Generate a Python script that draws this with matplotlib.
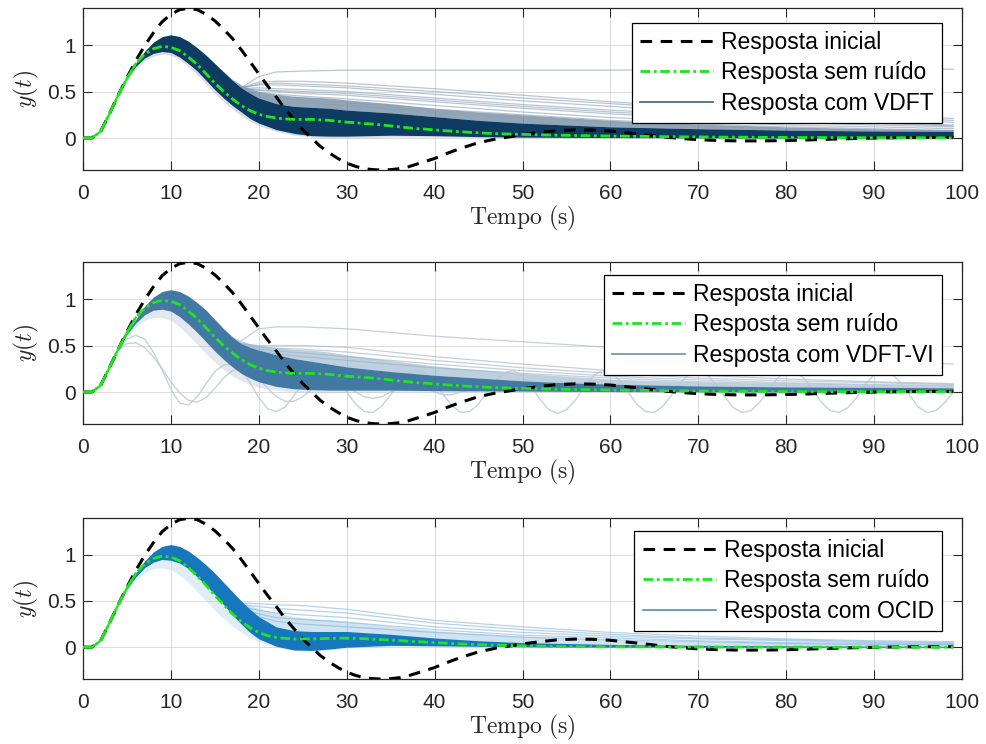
import numpy as np
import matplotlib
matplotlib.use('Agg')
import matplotlib.pyplot as plt
from matplotlib.lines import Line2D

plt.rcParams['font.family'] = ['Liberation Sans', 'DejaVu Sans']
plt.rcParams['mathtext.fontset'] = 'cm'

# ---------------- data ----------------
t_main = list(range(0, 48)) + list(range(48, 99, 2)) + [99]

y_inicial = [0, 0, 0.07, 0.26, 0.46, 0.65, 0.83, 0.99, 1.13, 1.25, 1.33, 1.38, 1.395, 1.38, 1.33, 1.26,
             1.17, 1.07, 0.95, 0.82, 0.69, 0.56, 0.44, 0.31, 0.2, 0.09, 0.0, -0.09, -0.16, -0.22, -0.27,
             -0.305, -0.33, -0.34, -0.345, -0.34, -0.33, -0.31, -0.28, -0.25, -0.22, -0.18, -0.145, -0.11,
             -0.08, -0.05, -0.03, -0.01,
             0.005, 0.035, 0.06, 0.08, 0.088, 0.085, 0.075, 0.055, 0.035, 0.012, -0.005, -0.018, -0.026,
             -0.03, -0.031, -0.03, -0.027, -0.022, -0.016, -0.01, -0.005, -0.001, 0.002, 0.004, 0.005,
             0.005, 0.005]

y_semruido_vdft = [0, 0, 0.07, 0.26, 0.46, 0.64, 0.8, 0.9, 0.96, 0.985, 0.975, 0.94, 0.87, 0.79, 0.69, 0.59,
                   0.5, 0.42, 0.35, 0.295, 0.255, 0.23, 0.215, 0.205, 0.2, 0.2, 0.2, 0.195, 0.19, 0.18, 0.17,
                   0.165, 0.155, 0.15, 0.14, 0.13, 0.12, 0.11, 0.1, 0.095, 0.087, 0.08, 0.073, 0.067, 0.061,
                   0.056, 0.051, 0.047,
                   0.044, 0.039, 0.034, 0.03, 0.027, 0.024, 0.021, 0.019, 0.017, 0.015, 0.013, 0.012, 0.01,
                   0.009, 0.008, 0.007, 0.006, 0.005, 0.005, 0.004, 0.004, 0.003, 0.003, 0.003, 0.002,
                   0.002, 0.002]
y_semruido_vdftvi = y_semruido_vdft
y_semruido_ocid = [0, 0, 0.07, 0.26, 0.46, 0.64, 0.8, 0.9, 0.96, 0.985, 0.975, 0.935, 0.86, 0.77, 0.67, 0.56,
                   0.46, 0.36, 0.28, 0.21, 0.16, 0.125, 0.105, 0.095, 0.09, 0.09, 0.09, 0.092, 0.095, 0.097,
                   0.097, 0.095, 0.092, 0.087, 0.082, 0.077, 0.071, 0.065, 0.06, 0.055, 0.05, 0.045, 0.04,
                   0.036, 0.032, 0.028, 0.025, 0.022,
                   0.019, 0.014, 0.011, 0.008, 0.006, 0.005, 0.004, 0.003, 0.003, 0.002, 0.002, 0.002, 0.001,
                   0.001, 0.001, 0.001, 0.001, 0.001, 0, 0, 0, 0, 0, 0, 0, 0, 0]

# envelopes of the dense bundles of noisy responses
t_band = [0, 1, 2, 3, 4, 5, 6, 7, 8, 9, 10, 11, 12, 13, 14, 15, 16, 17, 18, 19, 20, 22, 24, 26, 28, 30,
          35, 40, 45, 50, 55, 60, 70, 80, 90, 99]
vdft_upper = [0, 0, 0.07, 0.26, 0.46, 0.64, 0.8, 0.93, 1.03, 1.09, 1.11, 1.09, 1.04, 0.97, 0.89, 0.8, 0.71,
              0.62, 0.54, 0.48, 0.43, 0.37, 0.34, 0.33, 0.32, 0.3, 0.27, 0.23, 0.19, 0.16, 0.14, 0.12, 0.1,
              0.085, 0.075, 0.07]
vdft_lower = [0, 0, 0.07, 0.26, 0.46, 0.64, 0.77, 0.86, 0.91, 0.93, 0.92, 0.87, 0.8, 0.72, 0.62, 0.52, 0.43,
              0.35, 0.28, 0.21, 0.16, 0.09, 0.05, 0.025, 0.02, 0.02, 0.03, 0.025, 0.015, 0.01, 0.007, 0.005,
              0.002, 0, 0, 0]
vdft_lower_light = [0, 0, 0.07, 0.26, 0.46, 0.62, 0.74, 0.83, 0.88, 0.9, 0.89, 0.84, 0.77, 0.68, 0.58, 0.48,
                    0.39, 0.31, 0.24, 0.18, 0.13, 0.07, 0.03, 0.01, 0.0, 0.0, 0.01, 0.01, 0.005, 0, 0, 0, 0,
                    0, 0, 0]
vdft_fan = [0, 0, 0.07, 0.26, 0.46, 0.64, 0.8, 0.93, 1.03, 1.09, 1.11, 1.09, 1.04, 0.97, 0.89, 0.8, 0.71,
            0.63, 0.57, 0.53, 0.5, 0.47, 0.45, 0.44, 0.43, 0.41, 0.37, 0.32, 0.28, 0.25, 0.22, 0.19, 0.15,
            0.12, 0.1, 0.09]

vi_upper = [0, 0, 0.07, 0.26, 0.46, 0.64, 0.78, 0.92, 1.02, 1.08, 1.1, 1.08, 1.03, 0.96, 0.88, 0.78, 0.68,
            0.59, 0.52, 0.48, 0.45, 0.4, 0.36, 0.33, 0.3, 0.27, 0.22, 0.18, 0.15, 0.12, 0.1, 0.085, 0.065,
            0.055, 0.05, 0.045]
vi_lower = [0, 0, 0.07, 0.26, 0.46, 0.62, 0.74, 0.83, 0.88, 0.89, 0.87, 0.81, 0.73, 0.64, 0.54, 0.44, 0.35,
            0.27, 0.2, 0.15, 0.11, 0.06, 0.035, 0.025, 0.02, 0.02, 0.02, 0.015, 0.012, 0.01, 0.007, 0.005,
            0.002, 0, 0, 0]
vi_lower_light = [0, 0, 0.07, 0.26, 0.46, 0.6, 0.7, 0.77, 0.8, 0.8, 0.77, 0.7, 0.61, 0.51, 0.41, 0.32, 0.24,
                  0.17, 0.12, 0.08, 0.05, 0.02, 0.0, -0.01, -0.01, -0.005, 0, 0, 0, 0, 0, 0, 0, 0, 0, 0]
vi_fan = [0, 0, 0.07, 0.26, 0.46, 0.64, 0.78, 0.92, 1.02, 1.08, 1.1, 1.08, 1.03, 0.96, 0.88, 0.78, 0.68,
          0.6, 0.55, 0.52, 0.5, 0.48, 0.46, 0.45, 0.43, 0.4, 0.34, 0.28, 0.24, 0.2, 0.17, 0.14, 0.11,
          0.09, 0.07, 0.06]

ocid_upper = [0, 0, 0.07, 0.26, 0.46, 0.64, 0.8, 0.93, 1.03, 1.09, 1.11, 1.09, 1.04, 0.97, 0.89, 0.8, 0.7,
              0.6, 0.5, 0.41, 0.33, 0.22, 0.18, 0.17, 0.17, 0.17, 0.14, 0.1, 0.07, 0.05, 0.04, 0.03, 0.02,
              0.015, 0.012, 0.01]
ocid_lower = [0, 0, 0.07, 0.26, 0.46, 0.63, 0.76, 0.86, 0.92, 0.95, 0.94, 0.91, 0.85, 0.76, 0.67, 0.57, 0.46,
              0.35, 0.25, 0.16, 0.09, 0.01, -0.03, -0.035, -0.02, 0.0, 0.02, 0.015, 0.01, 0.005, 0.002, 0, 0,
              0, 0, 0]
ocid_lower_light = [0, 0, 0.07, 0.26, 0.46, 0.62, 0.73, 0.8, 0.85, 0.86, 0.84, 0.78, 0.7, 0.6, 0.5, 0.4,
                    0.31, 0.23, 0.16, 0.1, 0.06, 0.0, -0.035, -0.04, -0.03, -0.01, 0.01, 0.01, 0.005, 0, 0,
                    0, 0, 0, 0, 0]
ocid_fan = [0, 0, 0.07, 0.26, 0.46, 0.64, 0.8, 0.93, 1.03, 1.09, 1.11, 1.09, 1.04, 0.97, 0.89, 0.8, 0.7,
            0.6, 0.5, 0.45, 0.42, 0.37, 0.33, 0.31, 0.3, 0.28, 0.23, 0.18, 0.15, 0.12, 0.1, 0.08, 0.06,
            0.05, 0.04, 0.035]

# individual responses that leave the bundle
t_out = [18, 20, 22, 25, 30, 40, 50, 60, 70, 80, 90, 99]
vdft_outliers = [
    [0.54, 0.66, 0.71, 0.72, 0.73, 0.73, 0.73, 0.73, 0.735, 0.74, 0.74, 0.74],
    [0.54, 0.6, 0.61, 0.61, 0.59, 0.53, 0.46, 0.39, 0.33, 0.28, 0.24, 0.21],
    [0.54, 0.58, 0.59, 0.58, 0.56, 0.5, 0.43, 0.37, 0.31, 0.26, 0.22, 0.19],
    [0.54, 0.57, 0.57, 0.56, 0.54, 0.47, 0.4, 0.34, 0.28, 0.23, 0.2, 0.17],
    [0.53, 0.54, 0.53, 0.52, 0.5, 0.43, 0.36, 0.3, 0.25, 0.2, 0.17, 0.14],
    [0.53, 0.52, 0.51, 0.5, 0.48, 0.41, 0.34, 0.28, 0.23, 0.19, 0.16, 0.13],
    [0.53, 0.51, 0.5, 0.48, 0.46, 0.39, 0.32, 0.26, 0.21, 0.17, 0.14, 0.12],
    [0.52, 0.49, 0.47, 0.45, 0.42, 0.35, 0.28, 0.22, 0.18, 0.14, 0.12, 0.1],
    [0.5, 0.46, 0.43, 0.41, 0.38, 0.31, 0.25, 0.19, 0.15, 0.12, 0.1, 0.08],
    [0.5, 0.45, 0.41, 0.38, 0.35, 0.28, 0.22, 0.17, 0.13, 0.1, 0.08, 0.07],
]
vi_outliers = [
    [0.55, 0.68, 0.7, 0.7, 0.68, 0.6, 0.54, 0.48, 0.43, 0.38, 0.34, 0.3],
    [0.52, 0.5, 0.5, 0.5, 0.48, 0.38, 0.3, 0.23, 0.18, 0.14, 0.11, 0.09],
    [0.52, 0.48, 0.47, 0.46, 0.43, 0.34, 0.26, 0.2, 0.15, 0.12, 0.1, 0.08],
    [0.5, 0.46, 0.44, 0.42, 0.38, 0.3, 0.23, 0.17, 0.13, 0.1, 0.08, 0.07],
    [0.48, 0.44, 0.41, 0.38, 0.34, 0.26, 0.2, 0.15, 0.11, 0.09, 0.07, 0.06],
]
ocid_outliers = [
    [0.48, 0.47, 0.46, 0.45, 0.41, 0.29, 0.22, 0.16, 0.12, 0.09, 0.07, 0.06],
    [0.46, 0.44, 0.42, 0.4, 0.37, 0.26, 0.19, 0.14, 0.1, 0.08, 0.06, 0.05],
    [0.44, 0.4, 0.37, 0.35, 0.32, 0.22, 0.16, 0.12, 0.09, 0.07, 0.05, 0.04],
    [0.42, 0.36, 0.32, 0.3, 0.27, 0.19, 0.13, 0.1, 0.07, 0.05, 0.04, 0.03],
    [0.4, 0.33, 0.28, 0.25, 0.22, 0.16, 0.11, 0.08, 0.06, 0.04, 0.03, 0.03],
]

# oscillating VDFT-VI responses
t_oscA = list(range(0, 100))
vi_osc_a = [0, 0, 0.07, 0.26, 0.45, 0.57, 0.61, 0.57, 0.43, 0.24, 0.03, -0.12, -0.14, -0.05, 0.09, 0.22,
            0.29, 0.3, 0.24, 0.1,
            -0.06, -0.18, -0.21, -0.16, -0.04, 0.09, 0.19, 0.23, 0.21, 0.12,
            0.0, -0.13, -0.21, -0.22, -0.15, -0.03, 0.1, 0.2, 0.23, 0.2,
            0.1, -0.03, -0.15, -0.22, -0.21, -0.13, 0.0, 0.13, 0.21, 0.23,
            0.17, 0.06, -0.08, -0.19, -0.23, -0.19, -0.09, 0.05, 0.17, 0.23,
            0.21, 0.13, 0.0, -0.13, -0.21, -0.22, -0.15, -0.03, 0.1, 0.2,
            0.23, 0.19, 0.08, -0.05, -0.17, -0.22, -0.2, -0.11, 0.02, 0.15,
            0.22, 0.22, 0.15, 0.03, -0.11, -0.2, -0.22, -0.17, -0.06, 0.08,
            0.19, 0.23, 0.2, 0.1, -0.03, -0.16, -0.22, -0.2, -0.12, 0.0]
t_oscB = list(range(4, 46))
vi_osc_b = [0.46, 0.52, 0.53, 0.48, 0.38, 0.25, 0.11, -0.01, -0.09, -0.11, -0.06, 0.04, 0.15, 0.23, 0.26,
            0.23, 0.15, 0.04, -0.05, -0.1, -0.1, -0.05, 0.03, 0.1, 0.13, 0.12, 0.07, 0.0, -0.05, -0.07,
            -0.05, 0.0, 0.04, 0.07, 0.07, 0.04, 0.0, -0.03, -0.03, 0.0, 0.02, 0.02]

labels_metodo = ['Resposta com VDFT', 'Resposta com VDFT-VI', 'Resposta com OCID']
x_ticks = [0, 10, 20, 30, 40, 50, 60, 70, 80, 90, 100]
y_ticks = [0, 0.5, 1]
y_ticklabels = ['0', '0.5', '1']

# ---------------- styling ----------------
W, H = 986, 744
fig = plt.figure(figsize=(W / 100, H / 100), dpi=100)
boxes = [(83, 8, 962, 170), (83, 262, 962, 424), (83, 518, 962, 679)]
leg_tops = [23, 275, 531]

panels = [
    dict(up=vdft_upper, lo=vdft_lower, lol=vdft_lower_light, fan=vdft_fan, fan_a=0.45,
         outl=vdft_outliers, green=y_semruido_vdft,
         band='#0d3b62', light='#8ea3bb', outc='#8aa0b7', legc='#3d5f80', osc=False),
    dict(up=vi_upper, lo=vi_lower, lol=vi_lower_light, fan=vi_fan, fan_a=0.35,
         outl=vi_outliers, green=y_semruido_vdftvi,
         band='#4279a2', light='#a9bfd2', outc='#9bb1c6', legc='#6f8fab', osc=True),
    dict(up=ocid_upper, lo=ocid_lower, lol=ocid_lower_light, fan=ocid_fan, fan_a=0.2,
         outl=ocid_outliers, green=y_semruido_ocid,
         band='#1677bd', light='#a8cbe8', outc='#86b5db', legc='#4a8fc4', osc=False),
]

fs = 15
fs_leg = 16.5
dark = '#262626'
green = '#1ee61e'

for i, (box, p) in enumerate(zip(boxes, panels)):
    l, t, r, b = box
    ax = fig.add_axes([l / W, 1 - b / H, (r - l) / W, (b - t) / H])
    ax.set_xlim(0, 100)
    ax.set_ylim(-0.344, 1.398)

    ax.fill_between(t_band, p['lol'], p['up'], color=p['light'], alpha=0.35, lw=0, zorder=1)
    ax.fill_between(t_band, p['up'], p['fan'], color=p['band'], alpha=p['fan_a'], lw=0, zorder=1.5)
    for yo in p['outl']:
        ax.plot(t_out, yo, color=p['outc'], lw=0.9, alpha=0.6, zorder=2)
    if p['osc']:
        ax.plot(t_oscA, vi_osc_a, color='#bcc6d0', lw=1.0, alpha=0.8, zorder=2)
        ax.plot(t_oscB, vi_osc_b, color='#bcc6d0', lw=1.0, alpha=0.8, zorder=2)
    ax.fill_between(t_band, p['lo'], p['up'], color=p['band'], lw=0, zorder=3)

    ax.plot(t_main, y_inicial, color='k', lw=2.2, linestyle=(0, (3.8, 2.8)), zorder=5)
    ax.plot(t_main[:7], p['green'][:7], color=green, lw=1.6, zorder=6)
    ax.plot(t_main, p['green'], color=green, lw=2.0, linestyle=(0, (3.5, 1.3, 1.0, 1.3)), zorder=6)

    ax.grid(True, color='#dcdcdc', lw=0.7)
    ax.set_axisbelow(True)
    ax.set_xticks(x_ticks)
    ax.set_yticks(y_ticks)
    ax.set_yticklabels(y_ticklabels)
    ax.tick_params(direction='in', length=6.3, width=0.8, top=True, right=True,
                   labelsize=fs, colors=dark)
    ax.tick_params(axis='x', pad=10)
    ax.tick_params(axis='y', pad=5)
    for s in ax.spines.values():
        s.set_color(dark)
        s.set_linewidth(0.9)
    ax.set_xlabel(r'$\mathrm{Tempo\ (s)}$', fontsize=17, labelpad=1, color=dark)
    ax.set_ylabel(r'$y(t)$', fontsize=17, labelpad=4, color=dark)

    handles = [Line2D([], [], color='k', lw=2.2, linestyle=(0, (3.8, 2.8))),
               Line2D([], [], color=green, lw=2.0, linestyle=(0, (3.5, 1.3, 1.0, 1.3))),
               Line2D([], [], color=p['legc'], lw=1.2)]
    labs = ['Resposta inicial', 'Resposta sem ruído', labels_metodo[i]]
    anchor_y = (b - leg_tops[i]) / (b - t)
    anchor_x = (942 - l) / (r - l)
    leg = ax.legend(handles, labs, loc='upper right', bbox_to_anchor=(anchor_x, anchor_y),
                    borderaxespad=0, fontsize=fs_leg, frameon=True, fancybox=False, framealpha=1,
                    edgecolor='k', handlelength=3.2, handletextpad=0.35, borderpad=0.35,
                    labelspacing=0.32)
    leg.get_frame().set_linewidth(0.9)
    leg.set_zorder(10)

fig.savefig('out.png', dpi=100)
